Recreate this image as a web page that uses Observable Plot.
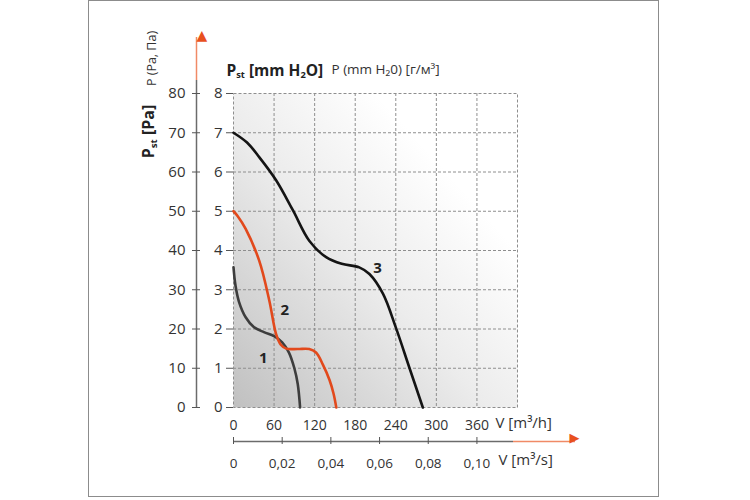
<!DOCTYPE html>
<html>
<head>
<meta charset="utf-8">
<script src="https://cdn.jsdelivr.net/npm/d3@7"></script>
<script src="https://cdn.jsdelivr.net/npm/@observablehq/plot@0.6"></script>
<style>
  html, body { margin: 0; padding: 0; background: #fff; }
  #wrap { position: relative; width: 750px; height: 500px; overflow: hidden; }
  #border { position: absolute; left: 88px; top: 0px; width: 571px; height: 497px; border: 1px solid #8c8c8c; box-sizing: border-box; pointer-events: none; }
</style>
</head>
<body>
<div id="wrap"><div id="border"></div></div>
<script>
// ---- data ----
// Curve 1 (dark grey)
const c1Flow = [0, 3, 8, 18, 30, 45, 60, 72, 82, 90, 95, 98.5];
const c1Pres = [3.57, 3.1, 2.7, 2.3, 2.05, 1.92, 1.82, 1.66, 1.4, 1.0, 0.6, 0];
// Curve 2 (orange)
const c2Flow = [0, 6, 18, 38, 53, 63, 70, 78, 95, 112, 122, 132, 142, 148, 152];
const c2Pres = [5.0, 4.88, 4.55, 3.74, 2.72, 1.87, 1.6, 1.5, 1.49, 1.49, 1.4, 1.1, 0.7, 0.35, 0];
// Curve 3 (black)
const c3Flow = [0, 20, 38, 63, 88, 112, 137, 160, 186, 201, 221, 240, 260, 280];
const c3Pres = [7.0, 6.75, 6.38, 5.79, 5.02, 4.25, 3.83, 3.66, 3.57, 3.4, 2.9, 2.04, 1.02, 0];
// Curve labels
const curveNames = ["1", "2", "3"];
const curveLabelFlow = [44, 76, 213];
const curveLabelPres = [1.25, 2.47, 3.54];
// Tick values
const flowTicksH = [0, 60, 120, 180, 240, 300, 360];       // m3/h
const gridFlow = [60, 120, 180, 240, 300, 360];
const flowTicksS = [0, 0.02, 0.04, 0.06, 0.08, 0.10];       // m3/s
const presTicksMm = [0, 1, 2, 3, 4, 5, 6, 7, 8];            // mm H2O
const paPerMm = 10;                                          // Pa per mm (secondary axis)

const series = [
  {name: "1", flow: c1Flow, pres: c1Pres, color: "#3d3d3d"},
  {name: "2", flow: c2Flow, pres: c2Pres, color: "#e2491c"},
  {name: "3", flow: c3Flow, pres: c3Pres, color: "#141414"}
];
const rows = series.flatMap(s => s.flow.map((f, i) => ({curve: s.name, flow: f, pres: s.pres[i], color: s.color})));
const labels = curveNames.map((n, i) => ({name: n, flow: curveLabelFlow[i], pres: curveLabelPres[i]}));

const orange = "#e8501e";
const gridColor = "#8e8e8e";
const commaFmt = d => d === 0 ? "0" : (d / 3600).toFixed(2).replace(".", ",");

const chart = Plot.plot({
  width: 750,
  height: 500,
  marginLeft: 233,
  marginRight: 233,
  marginTop: 93,
  marginBottom: 93,
  style: {fontFamily: "'Open Sans', 'DejaVu Sans', sans-serif", fontSize: "14px", color: "#333", background: "transparent"},
  x: {domain: [0, 420], axis: null},
  y: {domain: [0, 8], axis: null},
  marks: [
    Plot.frame({fill: "url(#bgGrad)", stroke: null}),
    Plot.gridX(gridFlow, {stroke: gridColor, strokeOpacity: 1, strokeDasharray: "3,2"}),
    Plot.gridY(presTicksMm.slice(1, -1), {stroke: gridColor, strokeOpacity: 1, strokeDasharray: "3,2"}),
    Plot.frame({stroke: gridColor, strokeDasharray: "3,2"}),
    // main y axis (mm H2O)
    Plot.axisY(presTicksMm, {anchor: "left", label: null, tickSize: 7, tickPadding: 4, fontSize: 15, stroke: "#555", fill: "#333"}),
    // secondary y axis (Pa)
    Plot.ruleX([0], {dx: -37, insetTop: -13, stroke: "#6b6b6b", strokeWidth: 1.5}),
    Plot.ruleX([0], {dx: -37, insetTop: -56, insetBottom: 327, stroke: "#f08a66", strokeWidth: 1.5}),
    Plot.text(["▲"], {frameAnchor: "top-left", dx: -37, dy: -63, fill: orange, fontSize: 14}),
    Plot.axisY(presTicksMm, {anchor: "left", label: null, dx: -33, tickSize: 8, tickPadding: 7, fontSize: 15, stroke: "#555", fill: "#333", tickFormat: d => d * paPerMm}),
    // x axis m3/h
    Plot.axisX(flowTicksH, {anchor: "bottom", label: null, tickSize: 0, tickPadding: 13, fontSize: 14, fill: "#333"}),
    Plot.text(["V [m³/h]"], {frameAnchor: "bottom-right", dx: -22, dy: 20, textAnchor: "start", fontSize: 15, fill: "#333"}),
    // x axis m3/s
    Plot.ruleY([0], {dy: 34, insetRight: 4, stroke: "#6b6b6b", strokeWidth: 1.5}),
    Plot.ruleY([0], {dy: 34, insetLeft: 280, insetRight: -58, stroke: "#f08a66", strokeWidth: 1.5}),
    Plot.text(["▶"], {frameAnchor: "bottom-right", dx: 62, dy: 34, fill: orange, fontSize: 13}),
    Plot.axisX(flowTicksS.map(v => v * 3600), {anchor: "bottom", label: null, dy: 30, tickSize: 7, tickPadding: 14, fontSize: 13.5, stroke: "#555", fill: "#333", tickFormat: commaFmt}),
    Plot.text(["V [m³/s]"], {frameAnchor: "bottom-right", dx: -19, dy: 57, textAnchor: "start", fontSize: 15, fill: "#333"}),
    // titles
    Plot.text(["P_{st} [mm H_{2}O]"], {frameAnchor: "top-left", dx: -7, dy: -29, textAnchor: "start", fontSize: 15.5, fontWeight: "bold", fill: "#222"}),
    Plot.text(["P (mm H₂0) [г/м³]"], {frameAnchor: "top-left", dx: 98, dy: -29, textAnchor: "start", fontSize: 13.5, fill: "#333"}),
    Plot.text(["P_{st} [Pa]"], {frameAnchor: "top-left", dx: -85, dy: 38, rotate: -90, textAnchor: "middle", lineAnchor: "middle", fontSize: 16, fontWeight: "bold", fill: "#222"}),
    Plot.text(["P (Pa, Па)"], {frameAnchor: "top-left", dx: -82, dy: -35, rotate: -90, textAnchor: "middle", lineAnchor: "middle", fontSize: 12.5, fill: "#333"}),
    // curves
    Plot.line(rows, {x: "flow", y: "pres", z: "curve", stroke: "color", strokeWidth: 2.6, curve: "catmull-rom"}),
    Plot.text(labels, {x: "flow", y: "pres", text: "name", fontSize: 15, fontWeight: "bold", fill: "#222"})
  ]
});

// gradient background definition
const svg = d3.select(chart);
const defs = svg.insert("defs", ":first-child");
const grad = defs.append("linearGradient").attr("id", "bgGrad")
  .attr("x1", "0").attr("y1", "1").attr("x2", "1").attr("y2", "0");
grad.append("stop").attr("offset", "0").attr("stop-color", "#c0c0c0");
grad.append("stop").attr("offset", "0.45").attr("stop-color", "#ececec");
grad.append("stop").attr("offset", "0.75").attr("stop-color", "#ffffff");
grad.append("stop").attr("offset", "1").attr("stop-color", "#ffffff");

// subscripts in text written as _{...}
svg.selectAll("text").each(function() {
  const t = this.textContent;
  if (!t.includes("_{")) return;
  const el = d3.select(this);
  el.text(null);
  t.split(/(_\{[^}]*\})/).forEach(part => {
    if (!part) return;
    if (part.startsWith("_{")) {
      el.append("tspan").attr("baseline-shift", "-25%").attr("font-size", "60%").text(part.slice(2, -1));
    } else {
      el.append("tspan").text(part);
    }
  });
});

document.getElementById("wrap").appendChild(chart);
</script>
</body>
</html>
